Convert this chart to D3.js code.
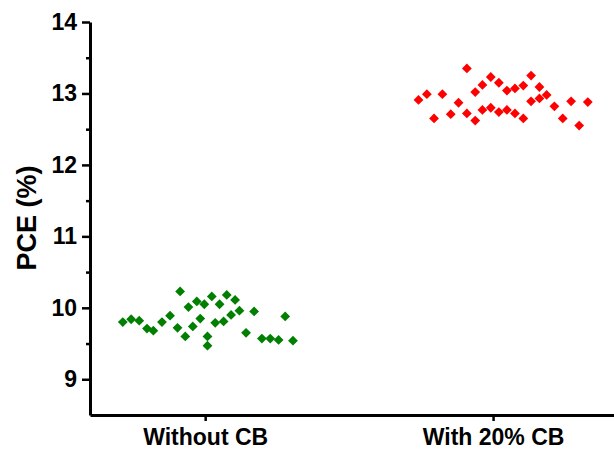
<!DOCTYPE html>
<html>
<head>
<meta charset="utf-8">
<script src="https://cdn.jsdelivr.net/npm/d3@7"></script>
<style>
  body { margin: 0; background: #fff; }
  svg text { font-family: "Liberation Sans", Arial, sans-serif; font-weight: bold; fill: #000; }
</style>
</head>
<body>
<div id="chart"></div>
<script>
// categories and tick labels
const categories = ['Without CB', 'With 20% CB'];
const yTicks = [9, 10, 11, 12, 13, 14];

// x is category index plus jitter, y is PCE (%)
const withoutX = [0.714, 0.743, 0.771, 0.798, 0.820, 0.850, 0.878, 0.913, 0.904, 0.931, 0.942,
  0.957, 0.971, 0.983, 0.997, 1.008, 1.008, 1.023, 1.035, 1.050, 1.064, 1.075, 1.090, 1.104,
  1.119, 1.142, 1.170, 1.197, 1.226, 1.255, 1.278, 1.305];
const withoutPCE = [9.80, 9.84, 9.82, 9.71, 9.68, 9.80, 9.89, 10.23, 9.72, 9.60, 10.01,
  9.74, 10.09, 9.85, 10.05, 9.60, 9.47, 10.16, 9.79, 10.05, 9.81, 10.18, 9.90, 10.11,
  9.96, 9.65, 9.95, 9.57, 9.57, 9.55, 9.88, 9.54];

const withX = [1.741, 1.770, 1.795, 1.824, 1.853, 1.880, 1.909, 1.909, 1.938, 1.938, 1.963,
  1.963, 1.992, 1.992, 2.020, 2.020, 2.048, 2.048, 2.076, 2.076, 2.105, 2.105, 2.132, 2.132,
  2.161, 2.161, 2.186, 2.213, 2.242, 2.271, 2.299, 2.329];
const withPCE = [12.91, 12.99, 12.65, 12.99, 12.71, 12.87, 13.35, 12.72, 13.02, 12.62, 13.12,
  12.77, 13.23, 12.80, 13.15, 12.74, 13.04, 12.77, 13.07, 12.72, 13.11, 12.65, 13.25, 12.89,
  13.09, 12.93, 12.98, 12.82, 12.65, 12.89, 12.55, 12.88];

const width = 614;
const height = 452;
const margin = {top: 22, right: 0, bottom: 37, left: 90};

const svg = d3.select('#chart')
    .append('svg')
    .attr('width', width)
    .attr('height', height);

const xScale = d3.scaleLinear().domain([0.6, 2.42]).range([margin.left, width]);
const yScale = d3.scaleLinear().domain([8.5, 14]).range([height - margin.bottom, margin.top]);

// y axis with minor ticks
const yAxis = svg.append('g')
    .attr('transform', 'translate(' + margin.left + ',0)');
yAxis.append('g')
    .call(d3.axisLeft(yScale).tickValues(d3.range(9.5, 14, 1)).tickSize(4).tickFormat(''))
    .call((g) => g.select('.domain').remove())
    .call((g) => g.selectAll('line').attr('stroke-width', 2.5));
yAxis.append('g')
    .call(d3.axisLeft(yScale).tickValues(yTicks).tickSize(8).tickPadding(5)
        .tickSizeOuter(0).tickFormat(d3.format('d')))
    .call((g) => g.select('.domain').attr('stroke-width', 3))
    .call((g) => g.selectAll('line').attr('stroke-width', 2.5))
    .call((g) => g.selectAll('text').style('font-size', '23px'));

// x axis
svg.append('g')
    .attr('transform', 'translate(0,' + (height - margin.bottom) + ')')
    .call(d3.axisBottom(xScale).tickValues([1, 2]).tickSize(6).tickPadding(8)
        .tickSizeOuter(0).tickFormat((d) => categories[d - 1]))
    .call((g) => g.select('.domain').attr('stroke-width', 3))
    .call((g) => g.selectAll('line').attr('stroke-width', 2.5))
    .call((g) => g.selectAll('text').style('font-size', '23px'));

svg.append('text')
    .attr('transform', 'translate(36,218) rotate(-90)')
    .attr('text-anchor', 'middle')
    .style('font-size', '27px')
    .text('PCE (%)');

const diamond = d3.symbol(d3.symbolSquare, 48);

function drawSeries(xs, ys, color) {
  svg.append('g')
      .selectAll('path')
      .data(xs.map((x, i) => [x, ys[i]]))
      .enter()
      .append('path')
      .attr('d', diamond)
      .attr('fill', color)
      .attr('transform', (d) => 'translate(' + xScale(d[0]) + ',' + yScale(d[1]) + ') rotate(45)');
}

drawSeries(withoutX, withoutPCE, '#007f00');
drawSeries(withX, withPCE, '#ff0000');
</script>
</body>
</html>
